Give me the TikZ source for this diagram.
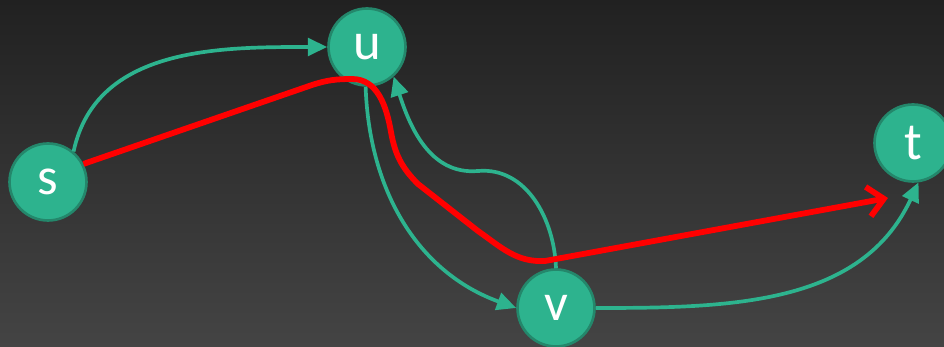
\documentclass[tikz,border=0pt]{standalone}
\usepackage{fontspec}
\setmainfont{Carlito}
\usetikzlibrary{arrows.meta}
\definecolor{BgTop}{RGB}{33,33,33}
\definecolor{BgMid}{RGB}{38,38,38}
\definecolor{BgBot}{RGB}{68,68,68}
\definecolor{NodeClr}{RGB}{45,179,142}
\definecolor{RimClr}{RGB}{36,135,107}
\definecolor{PathClr}{RGB}{255,0,0}

\begin{document}
\begin{tikzpicture}[x=0.02cm,y=-0.02cm,
  vtx/.style={circle,fill=NodeClr,draw=RimClr,line width=1.5pt,
    minimum size=1.54cm,inner sep=0pt,text=white,
    font=\fontsize{30}{30}\selectfont},
  flow/.style={draw=NodeClr,line width=2.1pt,
    -{Triangle[length=11pt,width=10pt]}},
  aug/.style={draw=PathClr,line width=3.3pt,line join=round,
    -{Straight Barb[length=9pt,width=17pt]}}]

% background
\shade[top color=BgTop,middle color=BgMid,bottom color=BgBot] (0,0) rectangle (944,347);
\useasboundingbox (0,0) rectangle (944,347);

% vertices
\node[vtx] (s) at (48,182) {s};
\node[vtx] (u) at (367,47) {u};
\node[vtx] (v) at (556,308) {v};
\node[vtx] (t) at (913,143) {t};

% edges
\draw[flow] (s.50) to[out=78,in=180] (u.west);
\draw[flow] (u.268) to[out=-88,in=160] (v.west);
\draw[flow] (v.north) to[out=92,in=5] (478,171) to[out=185,in=-72] (u.-48);
\draw[flow] (v.east) to[out=0,in=-115] (t.-82);

% augmenting path
\coordinate (tip) at (888,198);
\draw[aug] (s.27) -- (312,85) to[out=18,in=180] (352,79)
  to[out=0,in=100] (391,132) to[out=-80,in=135] (418,184)
  -- (478,231) to[out=-35,in=183] (545,261) -- (tip);

\end{tikzpicture}
\end{document}
